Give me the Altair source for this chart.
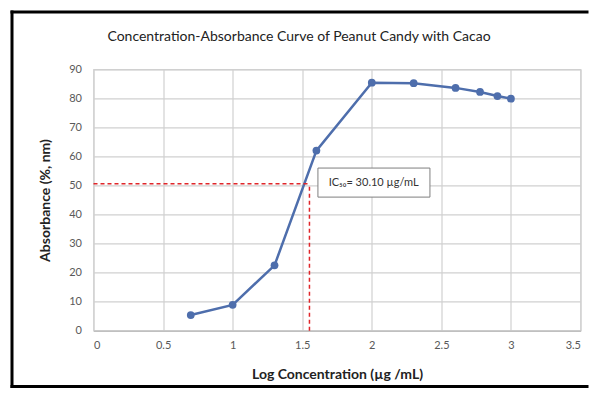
import altair as alt
import pandas as pd

# --- data ---
log_conc = [0.699, 1.0, 1.301, 1.602, 2.0, 2.301, 2.602, 2.778, 2.903, 3.0]
absorbance = [5.4, 8.9, 22.5, 62.0, 85.4, 85.2, 83.6, 82.2, 80.8, 79.9]

ic50_x = 1.552
ic50_y = 50.6

box_x = [1.613, 2.418]
box_y = [46.0, 56.0]
label_text = "IC\u2085\u2080= 30.10 \u00b5g/mL"
label_pos = [1.69, 51.0]

title_text = "Concentration-Absorbance Curve of Peanut Candy with Cacao"

x_ticks = [0, 0.5, 1, 1.5, 2, 2.5, 3, 3.5]
y_ticks = [0, 10, 20, 30, 40, 50, 60, 70, 80, 90]

FONT = "Lato"
BLUE = "#4E6EAC"
RED = "#E0262A"

df = pd.DataFrame({"x": log_conc, "y": absorbance})

xs = alt.Scale(domain=[0, 3.5], nice=False)
ys = alt.Scale(domain=[0, 90], nice=False)

xax = alt.Axis(values=x_ticks, title="Log Concentration (\u00b5g /mL)", format="~g",
               grid=True, ticks=False, domain=True, labelPadding=9, titlePadding=17,
               labelOverlap=False)
yax = alt.Axis(values=y_ticks, title="Absorbance (%, nm)", grid=True, ticks=False,
               domain=False, labelPadding=12, titlePadding=16, labelOverlap=False)

X = alt.X("x:Q", scale=xs, axis=xax)
Y = alt.Y("y:Q", scale=ys, axis=yax)

base = alt.Chart(df)

line = base.mark_line(color=BLUE, strokeWidth=2.5).encode(x=X, y=Y)
pts = base.mark_circle(color=BLUE, size=60, opacity=1).encode(x=X, y=Y)

hdf = pd.DataFrame({"x": [0], "x2": [ic50_x], "y": [ic50_y]})
hrule = alt.Chart(hdf).mark_rule(color=RED, strokeWidth=1.5, strokeDash=[4, 3]).encode(
    x=X, x2="x2:Q", y=Y
)
vdf = pd.DataFrame({"x": [ic50_x], "y": [0], "y2": [ic50_y]})
vrule = alt.Chart(vdf).mark_rule(color=RED, strokeWidth=1.5, strokeDash=[4, 3]).encode(
    x=X, y=Y, y2="y2:Q"
)

bdf = pd.DataFrame({"x": [box_x[0]], "x2": [box_x[1]], "y": [box_y[0]], "y2": [box_y[1]]})
box = alt.Chart(bdf).mark_rect(fill="white", stroke="#7F7F7F", strokeWidth=1).encode(
    x=X, x2="x2:Q", y=Y, y2="y2:Q"
)
tdf = pd.DataFrame({"x": [label_pos[0]], "y": [label_pos[1]], "t": [label_text]})
txt = alt.Chart(tdf).mark_text(align="left", baseline="middle", font=FONT, fontSize=11,
                                color="#333333").encode(x=X, y=Y, text="t:N")

title = alt.Chart(pd.DataFrame({"t": [title_text]})).mark_text(
    font=FONT, fontSize=14, color="#222222", align="center", baseline="middle"
).encode(x=alt.value(205.5), y=alt.value(-32.6), text="t:N")

one = pd.DataFrame({"a": [0]})
frame_left = alt.Chart(one).mark_rule(color="black", strokeWidth=3).encode(
    x=alt.value(-81.5), y=alt.value(-58.8), y2=alt.value(318.7)
)
frame_top = alt.Chart(one).mark_rule(color="black", strokeWidth=3).encode(
    x=alt.value(-83), x2=alt.value(495), y=alt.value(-57.3)
)
frame_bottom = alt.Chart(one).mark_rule(color="black", strokeWidth=3).encode(
    x=alt.value(-83), x2=alt.value(495), y=alt.value(317.2)
)

chart = alt.layer(
    line, pts, hrule, vrule, box, txt, title, frame_left, frame_top, frame_bottom
).properties(
    width=487, height=261.4,
    autosize=alt.AutoSizeParams(type="none"),
    padding={"left": 85.5, "top": 61.3, "right": 8, "bottom": 57.3},
).configure_view(stroke="#D0D0D0", strokeWidth=1.2).configure_axis(
    labelFont=FONT, labelFontSize=11, labelColor="#595959",
    titleFont=FONT, titleFontSize=14, titleFontWeight="bold", titleColor="#222222",
    gridColor="#D0D0D0", gridWidth=1.2, domainColor="#C0C0C0", domainWidth=1.5,
)

chart.save("out.html", embed_options={"renderer": "svg", "actions": False})
